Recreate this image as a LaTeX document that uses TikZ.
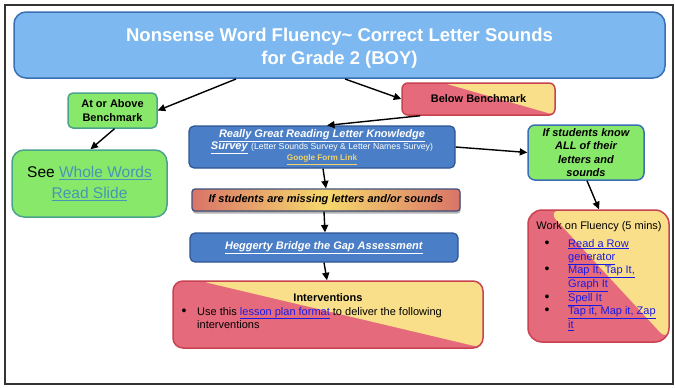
\documentclass[tikz,border=0pt]{standalone}
\usepackage{fontspec}
\setmainfont{Liberation Sans}
\usetikzlibrary{arrows.meta,calc,shadows}

\definecolor{titlefill}{HTML}{7DB9F0}
\definecolor{titleline}{HTML}{3A6EB5}
\definecolor{grn}{HTML}{88E86A}
\definecolor{grnline}{HTML}{4AA38C}
\definecolor{bluefill}{HTML}{4A7EC6}
\definecolor{blueline}{HTML}{2E5593}
\definecolor{pink}{HTML}{E56A7C}
\definecolor{ylw}{HTML}{FADF8A}
\definecolor{redline}{HTML}{C9424F}
\definecolor{linkblue}{HTML}{1A1AE6}
\definecolor{linkteal}{HTML}{4696B4}
\definecolor{formlink}{HTML}{F2D36A}
\definecolor{gradred}{HTML}{D97468}
\definecolor{gradylw}{HTML}{F6D96C}
\definecolor{slate}{HTML}{3E4F7A}
\definecolor{framecol}{HTML}{333333}

\newcommand\labfont{\fontsize{11}{13.3}\selectfont}
\newcommand\smallfont{\fontsize{8.7}{10}\selectfont}
\newcommand\ulink[2][linkblue]{\textcolor{#1}{\underline{#2}}}
\newcommand\bigdot{{\fontsize{14}{13.3}\selectfont\textbullet}}

\tikzset{
  titlebox/.style={draw=titleline, fill=titlefill, rounded corners=12pt, line width=1.5pt, inner sep=0pt},
  titletext/.style={text=white, font=\fontsize{18.5}{23}\selectfont\bfseries, align=center, inner sep=0pt},
  greenbox/.style={draw=grnline, fill=grn, rounded corners=5pt, line width=1.5pt, inner sep=0pt, align=center},
  bluebox/.style={draw=blueline, fill=bluefill, rounded corners=5pt, line width=1.2pt, inner sep=0pt, align=center, text=white},
  splitbox/.style={draw=redline, fill=pink, line width=1.5pt, inner sep=0pt,
    path picture={\fill[ylw] ($(path picture bounding box.north west)!#1!(path picture bounding box.north east)$)
      -- (path picture bounding box.north east) -- (path picture bounding box.south east) -- cycle;}},
  missbox/.style={draw=slate, line width=1.2pt, rounded corners=3pt, inner sep=0pt,
    left color=gradred, right color=gradred, middle color=gradylw,
    drop shadow={shadow xshift=0.6pt, shadow yshift=-2.5pt, opacity=0.3, fill=black}},
  arrow/.style={-{Triangle[length=7.5pt,width=7pt]}, line width=1.4pt},
}

\begin{document}
\begin{tikzpicture}[x=1pt,y=-1pt]
\useasboundingbox (0,0) rectangle (675,388);
\fill[white] (0,0) rectangle (675,388);
\draw[framecol, line width=1.6pt] (5,5) rectangle (673,384);

% heading
\node[titlebox, minimum width=651pt, minimum height=66pt] (title) at (339.5,45) {};
\node[titletext] (titletext) at (339.5,48.7)
  {Nonsense Word Fluency\textasciitilde{} Correct Letter Sounds\\for Grade 2 (BOY)};

% left branch
\node[greenbox, minimum width=89pt, minimum height=35pt, font=\labfont\bfseries] (above) at (112.5,110.5)
  {At or Above\\Benchmark};
\node[greenbox, rounded corners=12pt, minimum width=155pt, minimum height=67pt,
      font=\fontsize{15.5}{21}\selectfont] (see) at (89.5,183.5)
  {See \ulink[linkteal]{Whole Words}\\\ulink[linkteal]{Read Slide}};

% right branch
\node[splitbox=0.27, rounded corners=6pt, minimum width=153pt, minimum height=32pt,
      font=\labfont\bfseries] (below) at (478.5,99) {Below Benchmark};

\node[bluebox, minimum width=266pt, minimum height=42pt, font=\labfont] (really) at (322,147)
  {\ulink[white]{\textbf{\textit{Really Great Reading Letter Knowledge}}}\\[-1pt]
   \ulink[white]{\textbf{\textit{Survey}}} {\smallfont (Letter Sounds Survey \& Letter Names Survey)}\\[-2.5pt]
   {\fontsize{8.2}{10}\selectfont\ulink[formlink]{\textbf{Google Form Link}}}};

\node[missbox, minimum width=268pt, minimum height=22pt, font=\labfont\bfseries\itshape] (missing) at (326,200)
  {If students are missing letters and/or sounds};

\node[bluebox, minimum width=268pt, minimum height=29pt, font=\labfont] (hegg) at (324,247.5)
  {\ulink[white]{\textbf{\textit{Heggerty Bridge the Gap Assessment}}}};

\node[greenbox, draw=titleline, rounded corners=7pt, minimum width=116pt, minimum height=55pt,
      font=\labfont\bfseries\itshape] (know) at (586,152.5)
  {If students know\\ALL of their\\letters and\\sounds};

% fluency activities
\node[splitbox=0.135, rounded corners=14pt, minimum width=141pt, minimum height=132pt] (work) at (598.5,276) {};
\node[anchor=base, font=\labfont, inner sep=0pt] (worktitle) at (599,229) {Work on Fluency (5 mins)};
\node[anchor=base west, font=\labfont, inner sep=0pt] (worklist) at (544.5,247)
  {\begin{tabular}[t]{@{}p{23.5pt}@{}l@{}}
   \bigdot & \ulink{Read a Row}\\
           & \ulink{generator}\\
   \bigdot & \ulink{Map It, Tap It,}\\
           & \ulink{Graph It}\\
   \bigdot & \ulink{Spell It}\\
   \bigdot & \ulink{Tap it, Map it, Zap}\\
           & \ulink{it}
   \end{tabular}};

% interventions
\node[splitbox=0.087, rounded corners=10pt, minimum width=310pt, minimum height=67pt] (interv) at (328,314.5) {};
\node[anchor=base, font=\labfont\bfseries, inner sep=0pt] (intervtitle) at (328,301) {Interventions};
\node[anchor=base west, font=\labfont, inner sep=0pt] (intervlist) at (181.5,315)
  {\begin{tabular}[t]{@{}p{15.5pt}@{}l@{}}
   \bigdot & Use this \ulink{lesson plan format} to deliver the following\\
           & interventions
   \end{tabular}};

% connectors
\coordinate (t1) at (236,79);
\coordinate (t2) at (345,79);
\draw[arrow] (t1) -- (above.east);
\draw[arrow] (t2) -- (below.west);
\draw[arrow] ($(below.south west)+(19,0)$) -- ($(really.north)+(5,0)$);
\draw[arrow] ($(above.south)+(2,0)$) -- ($(see.north)+(1,0)$);
\draw[arrow] (really.east) -- (know.west);
\draw[arrow] ($(know.south)+(1,0)$) -- ($(work.north)+(0.5,0)$);
\draw[arrow] ($(really.south)+(1,0)$) -- (missing.north);
\draw[arrow] ($(missing.south)+(-2,0)$) -- ($(hegg.north)+(1,0)$);
\draw[arrow] (hegg.south) -- ($(interv.north)+(-1,0)$);
\end{tikzpicture}
\end{document}
